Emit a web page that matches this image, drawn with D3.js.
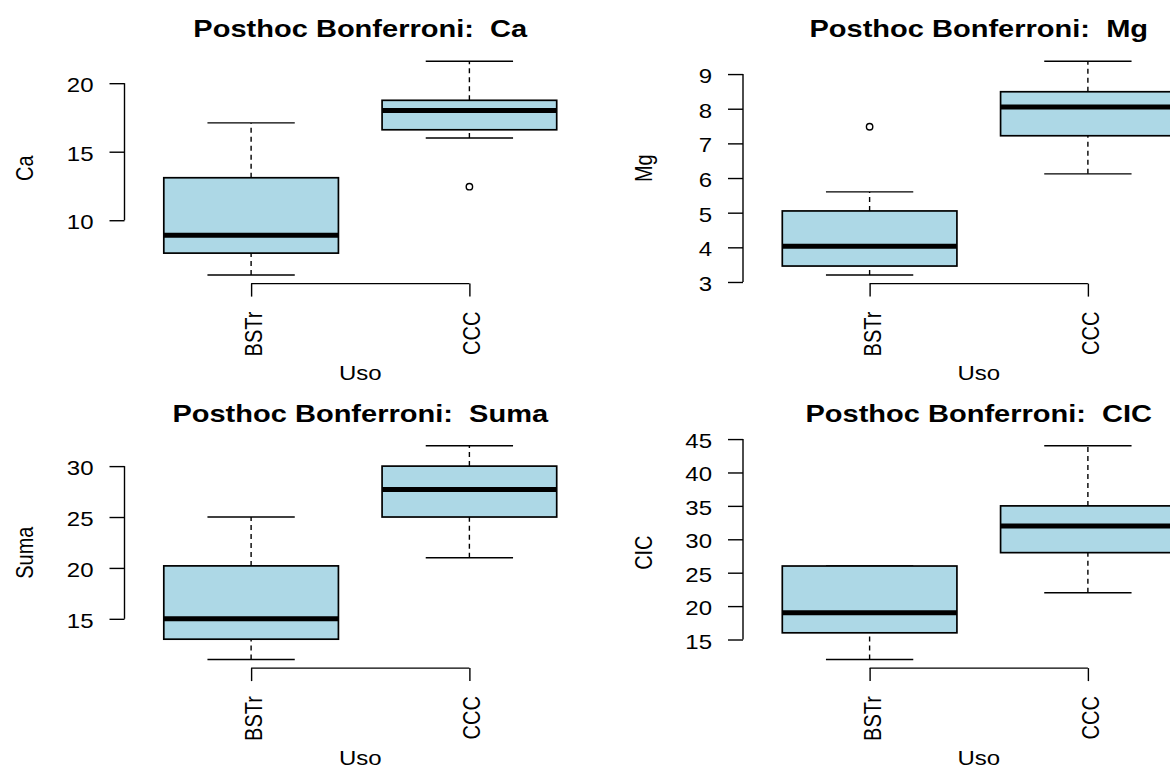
<!DOCTYPE html>
<html>
<head>
<meta charset="utf-8">
<script src="https://cdn.jsdelivr.net/npm/d3@7"></script>
<style>
  body { margin: 0; background: #fff; }
  svg { display: block; font-family: "Liberation Sans", Arial, sans-serif; }
</style>
</head>
<body>
<div id="chart"></div>
<script>
"use strict";

// groups on the x axis (same for every panel)
var groups = ["BSTr", "CCC"];
var xTitle = "Uso";

// box stats per group: [lower whisker, Q1, median, Q3, upper whisker]
var caBoxes = [[6.0, 7.6, 8.9, 13.1, 17.1], [16.0, 16.6, 18.0, 18.75, 21.6]];
var caOutliers = [[], [12.45]];
var caTicks = [10, 15, 20];

var mgBoxes = [[3.2, 3.46, 4.03, 5.05, 5.6], [6.12, 7.22, 8.05, 8.49, 9.37]];
var mgOutliers = [[7.48], []];
var mgTicks = [3, 4, 5, 6, 7, 8, 9];

var sumaBoxes = [[11, 13, 15, 20.2, 25], [21, 25, 27.7, 30, 32]];
var sumaOutliers = [[], []];
var sumaTicks = [15, 20, 25, 30];

var cicBoxes = [[12, 16, 19, 26, 26], [22, 28, 32, 35, 44]];
var cicOutliers = [[], []];
var cicTicks = [15, 20, 25, 30, 35, 40, 45];

var panels = [
  { name: "Ca",   boxes: caBoxes,   outliers: caOutliers,   ticks: caTicks,   col: 0, row: 0 },
  { name: "Mg",   boxes: mgBoxes,   outliers: mgOutliers,   ticks: mgTicks,   col: 1, row: 0 },
  { name: "Suma", boxes: sumaBoxes, outliers: sumaOutliers, ticks: sumaTicks, col: 0, row: 1 },
  { name: "CIC",  boxes: cicBoxes,  outliers: cicOutliers,  ticks: cicTicks,  col: 1, row: 1 }
];

// layout (the picture is a bit wider than tall, text stretched sideways)
var W = 1170, H = 769;
var panelW = 618.5, panelH = 384.5;
var plot = { left: 124.5, right: 596, top: 52.7, bottom: 283.6 };
var SX = 1.2;          // horizontal stretch of the text
var boxFill = "#ADD8E6";
var lw = 1.4;

var svg = d3.select("#chart")
  .append("svg")
    .attr("width", W)
    .attr("height", H)
    .style("overflow", "hidden");

panels.forEach(function(p) {
  var g = svg.append("g")
    .attr("transform", "translate(" + (p.col * panelW) + "," + (p.row * panelH) + ")");

  // y domain = data range + 4% like R
  var all = [];
  p.boxes.forEach(function(b) { all = all.concat(b); });
  p.outliers.forEach(function(o) { all = all.concat(o); });
  var lo = d3.min(all), hi = d3.max(all), pad = (hi - lo) * 0.04;

  var y = d3.scaleLinear()
    .domain([lo - pad, hi + pad])
    .range([plot.bottom, plot.top]);

  var x = d3.scalePoint()
    .domain(groups)
    .range([plot.left, plot.right])
    .padding(0.58);

  var bw = x.step() * 0.8;

  // whiskers (dashed)
  p.boxes.forEach(function(b, i) {
    var cx = x(groups[i]);
    g.append("line")
      .attr("x1", cx).attr("x2", cx)
      .attr("y1", y(b[0])).attr("y2", y(b[1]))
      .attr("stroke", "#000").attr("stroke-width", lw)
      .attr("stroke-dasharray", "5,4");
    g.append("line")
      .attr("x1", cx).attr("x2", cx)
      .attr("y1", y(b[3])).attr("y2", y(b[4]))
      .attr("stroke", "#000").attr("stroke-width", lw)
      .attr("stroke-dasharray", "5,4");
    // caps
    [b[0], b[4]].forEach(function(v) {
      g.append("line")
        .attr("x1", cx - bw / 4).attr("x2", cx + bw / 4)
        .attr("y1", y(v)).attr("y2", y(v))
        .attr("stroke", "#000").attr("stroke-width", lw);
    });
    // box
    g.append("rect")
      .attr("x", cx - bw / 2)
      .attr("y", y(b[3]))
      .attr("width", bw)
      .attr("height", y(b[1]) - y(b[3]))
      .attr("fill", boxFill)
      .attr("stroke", "#000")
      .attr("stroke-width", 1.7);
    // median
    g.append("line")
      .attr("x1", cx - bw / 2).attr("x2", cx + bw / 2)
      .attr("y1", y(b[2])).attr("y2", y(b[2]))
      .attr("stroke", "#000").attr("stroke-width", 5);
  });

  // outliers
  p.outliers.forEach(function(o, i) {
    g.selectAll(null).data(o)
      .join("circle")
        .attr("cx", x(groups[i]))
        .attr("cy", d => y(d))
        .attr("r", 3.2)
        .attr("fill", "none")
        .attr("stroke", "#000")
        .attr("stroke-width", lw);
  });

  // y axis
  var yAxis = d3.axisLeft(y)
    .tickValues(p.ticks)
    .tickFormat(d3.format("d"))
    .tickSize(15)
    .tickSizeOuter(0);
  var ya = g.append("g")
    .attr("transform", "translate(" + plot.left + ",0)")
    .call(yAxis);
  ya.select(".domain").remove();
  ya.selectAll("line").attr("stroke", "#000").attr("stroke-width", lw);
  ya.selectAll("text")
    .attr("x", null).attr("dy", null)
    .attr("transform", "translate(-31,8.5) scale(" + SX + ",1)")
    .attr("fill", "#000")
    .style("font-size", "20px")
    .style("font-family", "Liberation Sans, Arial, sans-serif");
  ya.append("line")
    .attr("x1", 0).attr("x2", 0)
    .attr("y1", y(p.ticks[0])).attr("y2", y(p.ticks[p.ticks.length - 1]))
    .attr("stroke", "#000").attr("stroke-width", lw);

  // x axis
  var xAxis = d3.axisBottom(x).tickSize(13).tickSizeOuter(0);
  var xa = g.append("g")
    .attr("transform", "translate(0," + plot.bottom + ")")
    .call(xAxis);
  xa.select(".domain").remove();
  xa.selectAll("line").attr("stroke", "#000").attr("stroke-width", lw);
  xa.selectAll("text")
    .attr("y", null).attr("dy", null)
    .attr("text-anchor", "end")
    .attr("transform", "translate(10.5,28) scale(" + SX + ",1) rotate(-90)")
    .attr("fill", "#000")
    .style("font-size", "20px")
    .style("font-family", "Liberation Sans, Arial, sans-serif");
  xa.append("line")
    .attr("x1", x(groups[0])).attr("x2", x(groups[groups.length - 1]))
    .attr("y1", 0).attr("y2", 0)
    .attr("stroke", "#000").attr("stroke-width", lw);

  var midX = (plot.left + plot.right) / 2;
  var midY = (plot.top + plot.bottom) / 2;

  // title
  g.append("text")
    .attr("text-anchor", "middle")
    .attr("transform", "translate(" + midX + ",37.3) scale(1.21,1)")
    .style("font-size", "24px")
    .style("font-weight", "bold")
    .style("white-space", "pre")
    .attr("xml:space", "preserve")
    .text("Posthoc Bonferroni:  " + p.name);

  // axis titles
  g.append("text")
    .attr("text-anchor", "middle")
    .attr("transform", "translate(" + midX + ",380) scale(" + SX + ",1)")
    .style("font-size", "20px")
    .text(xTitle);

  g.append("text")
    .attr("text-anchor", "middle")
    .attr("transform", "translate(33," + midY + ") scale(" + SX + ",1) rotate(-90)")
    .style("font-size", "20px")
    .text(p.name);
});
</script>
</body>
</html>
